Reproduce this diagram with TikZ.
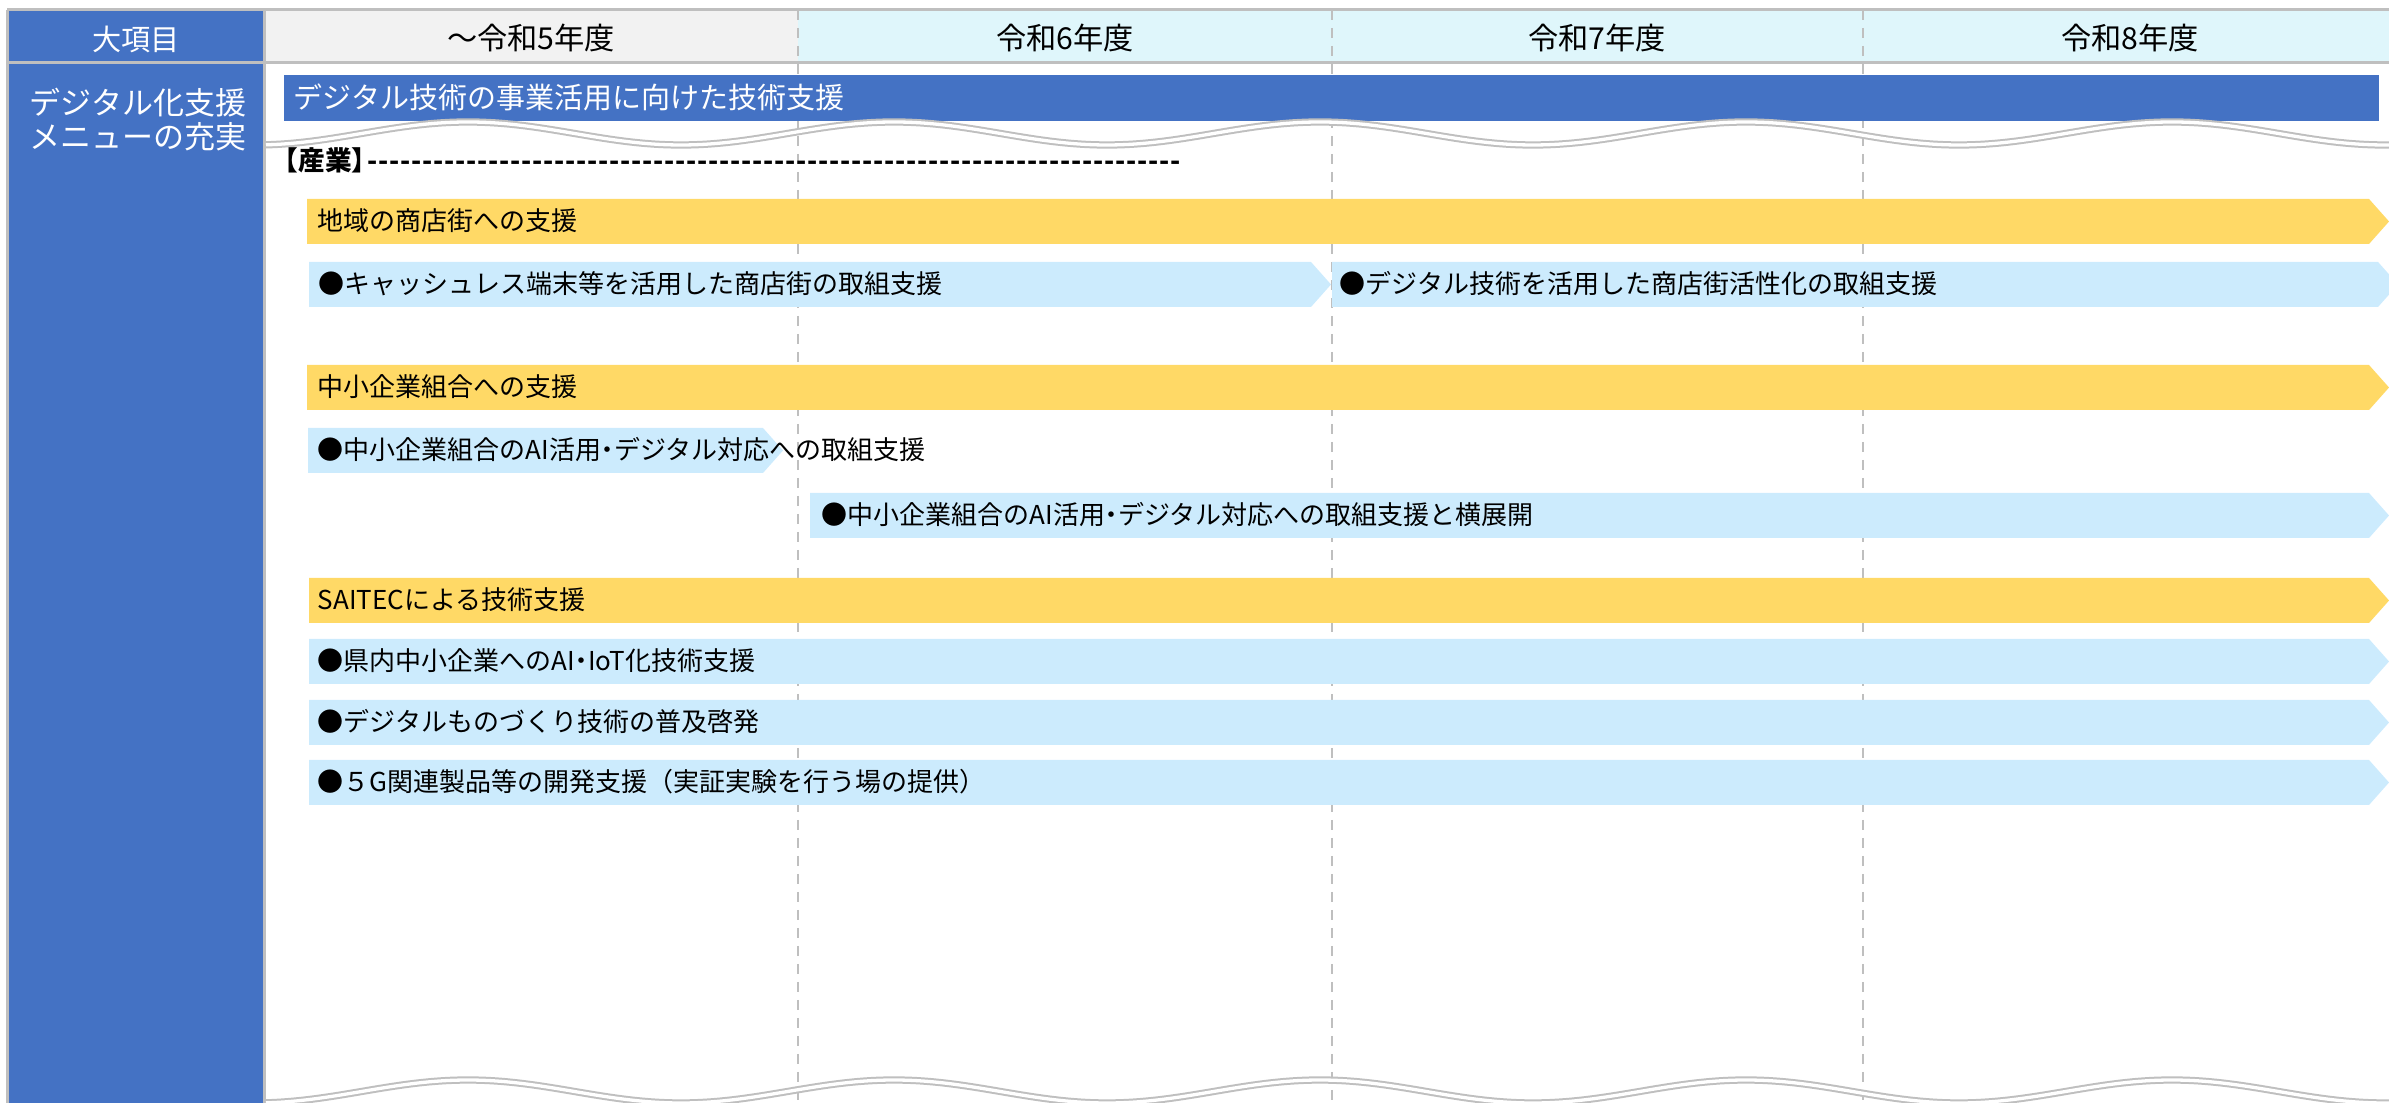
\documentclass[tikz,border=0pt]{standalone}
\usepackage{fontspec}
\setmainfont{Noto Sans CJK JP}
\definecolor{hdrblue}{HTML}{4472C4}
\definecolor{barY}{HTML}{FFD966}
\definecolor{barB}{HTML}{CCEBFD}
\definecolor{gline}{HTML}{BFBFBF}
\definecolor{hgray}{HTML}{F2F2F2}
\definecolor{hcyan}{HTML}{DFF6FB}
\newcommand\chevbar[4]{\fill[#1] (#2,#3) -- ({#4-20},#3) -- (#4,{#3+22.5}) -- ({#4-20},{#3+45}) -- (#2,{#3+45}) -- cycle;}
\newcommand\nakaguro{\makebox[0.5em]{・}}
\tikzset{
  gridline/.style={draw=gline, line width=0.3mm},
  vdash/.style={draw=gline, line width=0.25mm, dash pattern=on 1mm off 0.8mm},
  wave/.style={draw=gline, line width=0.2mm, double=white, double distance=0.33mm},
  lbl/.style={anchor=west, inner sep=0pt, font=\fontsize{7.4}{9}\selectfont, text height=2.13mm, text depth=0.26mm},
  hdr/.style={inner sep=0pt, font=\fontsize{8.6}{10}\selectfont, text height=2.46mm, text depth=0.3mm},
  lcol/.style={inner sep=0pt, text=white, font=\fontsize{8.82}{10}\selectfont, text height=2.54mm, text depth=0.31mm},
  titlebar/.style={anchor=west, fill=hdrblue, text=white, minimum width=209.5mm, minimum height=4.6mm,
     inner xsep=1mm, inner ysep=0pt, text width=207.5mm, align=left,
     font=\fontsize{8.25}{10}\selectfont, text height=2.38mm, text depth=0.29mm},
  sangyo/.style={anchor=west, inner sep=0pt, font=\fontsize{7.6}{9}\selectfont\bfseries, text height=2.18mm, text depth=0.27mm}
}
\begin{document}
\begin{tikzpicture}[x=0.1mm,y=-0.1mm]
\useasboundingbox (0,0) rectangle (2389,1103);
% header backgrounds
\fill[hgray] (264,10) rectangle (798,63);
\fill[hcyan] (798,10) rectangle (2389,63);
% left column
\fill[hdrblue] (7,10) rectangle (264,1103);
% dashed year dividers
\foreach \x in {798,1332,1863} \draw[vdash] (\x,10) -- (\x,1103);
% grid lines
\draw[gridline] (7,10) -- (2389,10);
\draw[gridline] (7,63) -- (2389,63);
\draw[gridline] (7,10) -- (7,1103);
\draw[gridline] (264,10) -- (264,1103);
% header texts
\node[hdr, text=white, font=\fontsize{8.3}{10}\selectfont] (h0) at (136,40) {大項目};
\node[hdr] (h5) at (531,39) {～令和5年度};
\node[hdr] (h6) at (1065,39) {令和6年度};
\node[hdr] (h7) at (1597,39) {令和7年度};
\node[hdr] (h8) at (2130,39) {令和8年度};
% left column text
\node[lcol] (lc1) at (138,103) {デジタル化支援};
\node[lcol] (lc2) at (138,137) {メニューの充実};
% title bar
\node[titlebar] (title) at (283,98) {デジタル技術の事業活用に向けた技術支援};
% waves
\draw[wave] plot[domain=266:2395,samples=250,smooth] (\x,{133.5+11.5*cos(0.84507*(\x-255))});
\draw[wave] plot[domain=266:2395,samples=250,smooth] (\x,{1091.5+11.5*cos(0.84507*(\x-255))});
% sangyo
\node[sangyo] (sg) at (271,161) {【産業】\kern-1.1mm\foreach \i in {1,...,74}{\makebox[1.1mm]{-}}};
% bars
\chevbar{barY}{307}{199}{2389}
\chevbar{barB}{309}{262}{1331}
\chevbar{barB}{1332}{262}{2398}
\chevbar{barY}{307}{365}{2389}
\chevbar{barB}{308}{428}{783}
\chevbar{barB}{810}{493}{2389}
\chevbar{barY}{309}{578}{2389}
\chevbar{barB}{309}{639}{2389}
\chevbar{barB}{309}{700}{2389}
\chevbar{barB}{309}{760}{2389}
% bar labels
\node[lbl] (t1) at (317,221.5) {地域の商店街への支援};
\node[lbl] (t2) at (318,284.5) {●キャッシュレス端末等を活用した商店街の取組支援};
\node[lbl] (t3) at (1339,284.5) {●デジタル技術を活用した商店街活性化の取組支援};
\node[lbl] (t4) at (317,387.5) {中小企業組合への支援};
\node[lbl] (t5) at (317,450.5) {●中小企業組合のAI活用\nakaguro デジタル対応への取組支援};
\node[lbl] (t6) at (821,515.5) {●中小企業組合のAI活用\nakaguro デジタル対応への取組支援と横展開};
\node[lbl] (t7) at (317,600.5) {SAITECによる技術支援};
\node[lbl] (t8) at (317,661.5) {●県内中小企業へのAI\nakaguro IoT化技術支援};
\node[lbl] (t9) at (317,722.5) {●デジタルものづくり技術の普及啓発};
\node[lbl] (t10) at (317,782.5) {●５G関連製品等の開発支援（実証実験を行う場の提供）};
\end{tikzpicture}
\end{document}
